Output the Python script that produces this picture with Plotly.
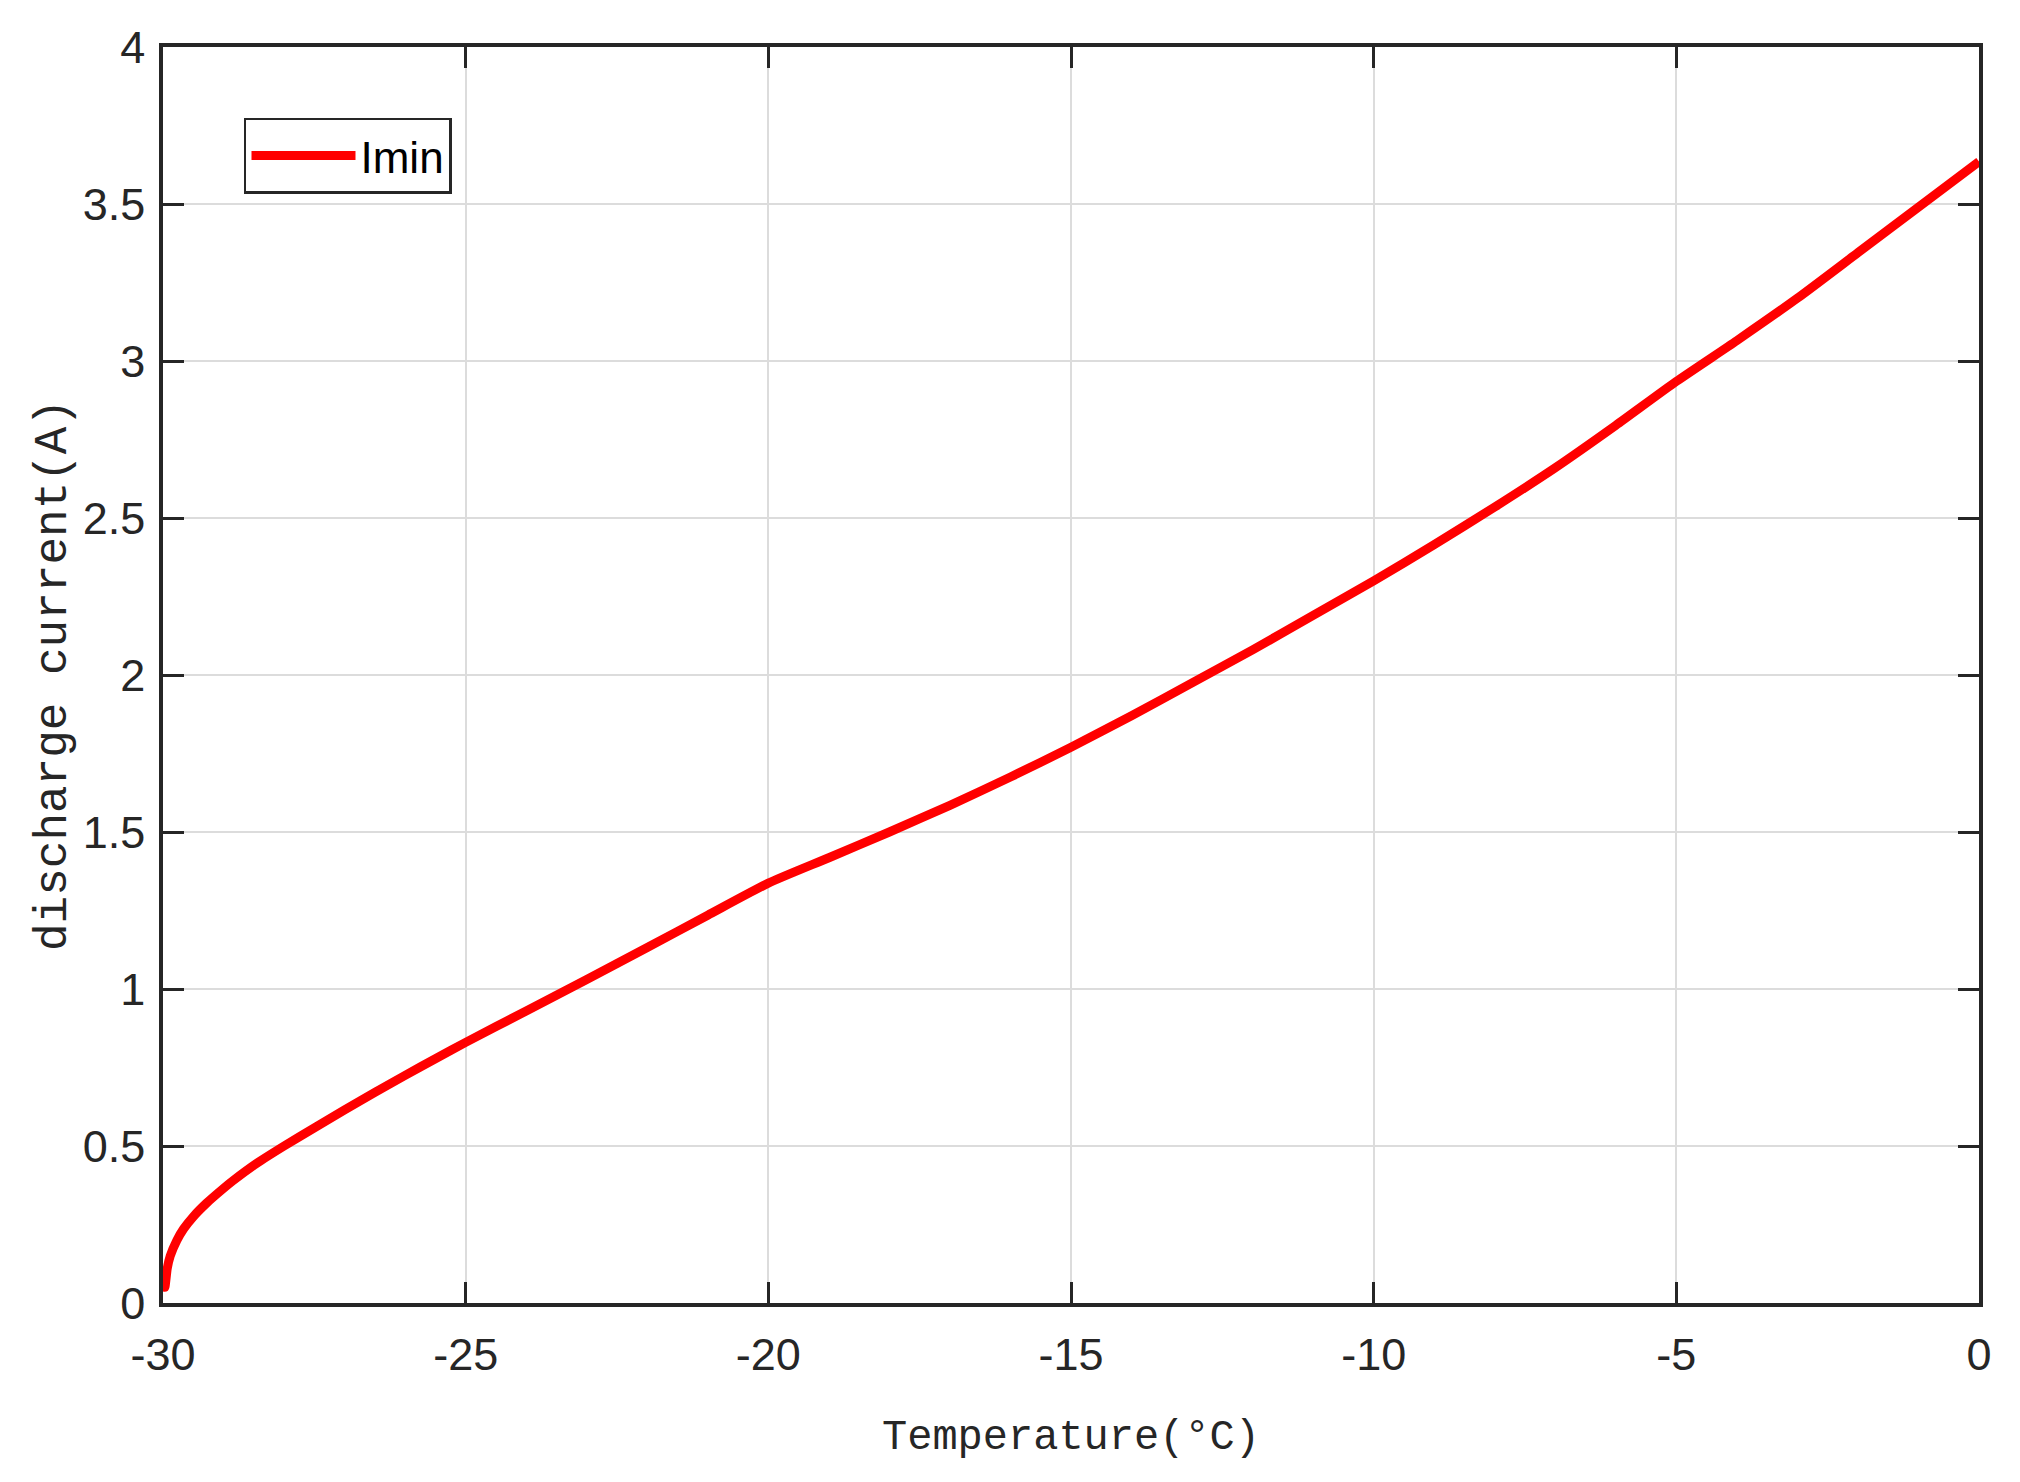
import plotly.graph_objects as go

# temperature (deg C) and minimum discharge current (A)
temperature = [-30, -29.97, -29.93, -29.88, -29.77, -29.66, -29.5, -29.28, -29.0, -28.84,
               -28.45, -28, -27.5, -27, -26.5, -26, -25.5, -25, -24, -23,
               -22, -21, -20, -19, -18, -17, -16, -15, -14, -13,
               -12, -11, -10, -9, -8, -7, -6, -5, -4, -3,
               -2, -1, 0]
current_min = [0.09, 0.05, 0.11, 0.15, 0.20, 0.236, 0.275, 0.318, 0.365, 0.39,
               0.445, 0.50, 0.558, 0.615, 0.671, 0.725, 0.778, 0.83, 0.93, 1.03,
               1.132, 1.235, 1.337, 1.418, 1.50, 1.585, 1.675, 1.77, 1.87, 1.975,
               2.08, 2.19, 2.30, 2.415, 2.535, 2.66, 2.795, 2.935, 3.065, 3.20,
               3.345, 3.49, 3.635]

x_ticks = [-30, -25, -20, -15, -10, -5, 0]
x_tick_labels = ["-30", "-25", "-20", "-15", "-10", "-5", "0"]
y_ticks = [0, 0.5, 1, 1.5, 2, 2.5, 3, 3.5, 4]
y_tick_labels = ["0", "0.5", "1", "1.5", "2", "2.5", "3", "3.5", "4"]

tick_font = dict(family="Liberation Sans, Arial", size=45, color="#262626")
title_font = "Liberation Mono, Courier New, monospace"

fig = go.Figure()
fig.add_trace(go.Scatter(x=temperature, y=current_min, mode="lines", name="Imin",
                         line=dict(color="#ff0000", width=9, shape="spline", smoothing=0.6)))

axis_common = dict(showline=True, linecolor="#262626", linewidth=3.5, mirror="ticks",
                   ticks="inside", ticklen=21, tickwidth=3, tickcolor="#262626",
                   showgrid=True, gridcolor="#dcdcdc", gridwidth=2, zeroline=False,
                   tickfont=tick_font, automargin=False)

fig.update_xaxes(range=[-30, 0], tickvals=x_ticks, ticktext=x_tick_labels,
                 ticklabelstandoff=9,
                 title=dict(text="Temperature(°C)", standoff=42,
                            font=dict(family=title_font, size=42, color="#262626")),
                 **axis_common)
fig.update_yaxes(range=[0, 4], tickvals=y_ticks, ticktext=y_tick_labels,
                 ticklabelstandoff=5,
                 title=dict(text="discharge current(A)", standoff=3,
                            font=dict(family=title_font, size=46, color="#262626")),
                 **axis_common)

# the page adds an 8 px body margin, so the margins are shifted by that much
fig.update_layout(
    width=2020, height=1482,
    margin=dict(l=155, r=49, t=39, b=187),
    paper_bgcolor="white", plot_bgcolor="white",
    showlegend=True,
    legend=dict(x=0.0446, y=0.9435, xanchor="left", yanchor="top",
                bgcolor="white", bordercolor="#262626", borderwidth=2.5,
                itemwidth=104,
                font=dict(family="Liberation Sans, Arial", size=44, color="black")),
)

fig.write_html("out.html")
